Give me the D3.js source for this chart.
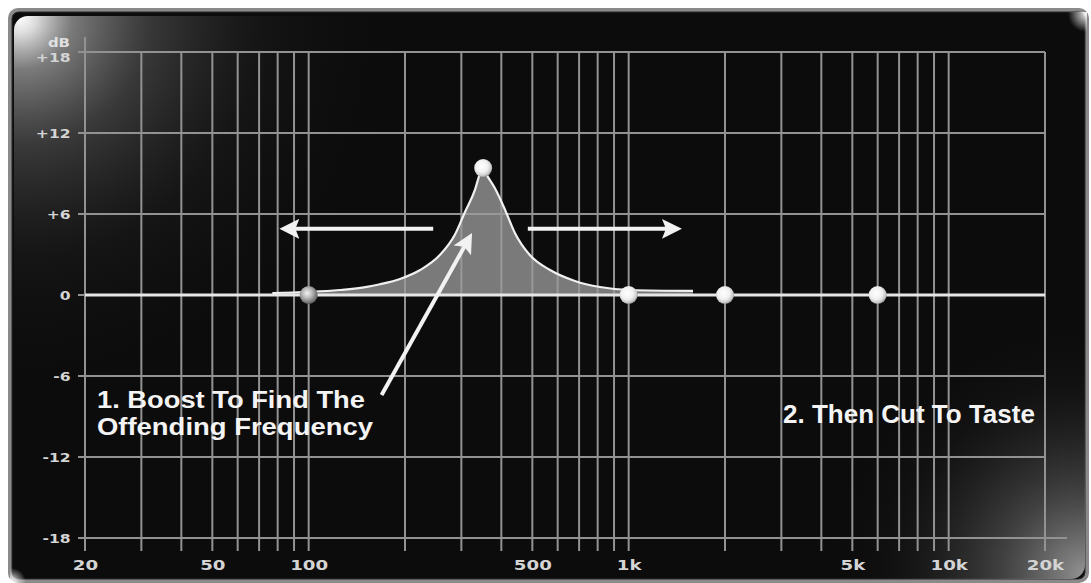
<!DOCTYPE html>
<html><head><meta charset="utf-8">
<script src="https://cdn.jsdelivr.net/npm/d3@7"></script>
<style>html,body{margin:0;padding:0;background:#fff;overflow:hidden;} svg{display:block;}</style>
</head><body>
<svg id="chart" width="1091" height="583"></svg>
<script>
// ---------- data ----------
const gridFreqs = [20,30,40,50,60,70,80,90,100,200,300,400,500,600,700,800,900,1000,2000,3000,4000,5000,6000,7000,8000,9000,10000,20000];
const freqTickValues = [20,50,100,500,1000,5000,10000,20000];
const freqTickLabels = ["20","50","100","500","1k","5k","10k","20k"];
const dbTickValues = [18,12,6,0,-6,-12,-18];
const dbTickLabels = ["+18","+12","+6","0","-6","-12","-18"];
const curveFreqs = [77,125,152,167,193,223,257,286,308,331,342,351,360,382,411,441,491,568,679,813,1010,1589];
const curveGains = [0.15,0.37,0.6,0.8,1.19,1.85,2.96,4.44,6.15,7.8,8.9,9.4,8.9,7.9,6.3,4.6,2.96,1.85,1.04,0.59,0.37,0.3];
const flatFreqs = [20,20000];
const flatGains = [0,0];
const nodeFreqs = [100,351,1000,2000,6000];
const nodeGains = [0,9.4,0,0,0];
const arrowFromFreqs = [245,484,169];
const arrowFromGains = [4.9,4.9,-7.4];
const arrowToFreqs = [81,1467,324];
const arrowToGains = [4.9,4.9,4.6];
const noteLeftLines = ["1. Boost To Find The","Offending Frequency"];
const noteRight = "2. Then Cut To Taste";
const unitLabel = "dB";

// ---------- layout ----------
const svg = d3.select("#chart");
const x = d3.scaleLog().domain([20,20000]).range([85,1045]);
const y = d3.scaleLinear().domain([-18,18]).range([538,52]);
const defs = svg.append("defs");

function radial(id, cx, cy, r, stops){
  const g = defs.append("radialGradient").attr("id",id).attr("gradientUnits","userSpaceOnUse")
    .attr("cx",cx).attr("cy",cy).attr("r",r);
  stops.forEach(s=>g.append("stop").attr("offset",s[0]).attr("stop-color",s[1]).attr("stop-opacity",s[2]));
}
radial("tlGlow", 20, 18, 400, [[0,"#fff",1],[0.04,"#eee",0.92],[0.13,"#aaa",0.7],[0.32,"#777",0.42],[0.6,"#444",0.16],[1,"#000",0]]);
radial("brGlow", 1084, 574, 270, [[0,"#aaa",0.85],[0.3,"#777",0.5],[0.7,"#333",0.15],[1,"#000",0]]);
radial("trGlow", 1086, 14, 18, [[0,"#fff",0.9],[1,"#fff",0]]);
radial("blGlow", 12, 582, 14, [[0,"#fff",0.9],[1,"#fff",0]]);
const nw = defs.append("radialGradient").attr("id","nodeWhite").attr("cx","42%").attr("cy","40%").attr("r","62%");
[[0,"#ffffff"],[0.55,"#f0f0f0"],[0.85,"#c8c8c8"],[1,"#8a8a8a"]].forEach(s=>nw.append("stop").attr("offset",s[0]).attr("stop-color",s[1]));
const ng = defs.append("radialGradient").attr("id","nodeGray").attr("cx","42%").attr("cy","40%").attr("r","62%");
[[0,"#f2f2f2"],[0.45,"#b8b8b8"],[1,"#5a5a5a"]].forEach(s=>ng.append("stop").attr("offset",s[0]).attr("stop-color",s[1]));
defs.append("marker").attr("id","head").attr("markerUnits","userSpaceOnUse")
  .attr("viewBox","0 -11 22 22").attr("markerWidth",22).attr("markerHeight",22)
  .attr("refX",12).attr("refY",0).attr("orient","auto")
  .append("path").attr("d","M0,-10L20,0L0,10L4,0Z").attr("fill","#f2f2f2");

// ---------- frame ----------
svg.append("rect").attr("x",10).attr("y",10).attr("width",1077).attr("height",571).attr("rx",8)
  .attr("fill","#0c0c0c").attr("stroke","#8a8a8a").attr("stroke-width",4);
svg.append("rect").attr("x",12).attr("y",12).attr("width",1073).attr("height",567).attr("rx",7)
  .attr("fill","none").attr("stroke","#2a2a2a").attr("stroke-width",1);
svg.append("rect").attr("x",14).attr("y",16).attr("width",1071).attr("height",563).attr("rx",14).attr("fill","url(#tlGlow)");
svg.append("rect").attr("x",14).attr("y",16).attr("width",1071).attr("height",563).attr("rx",14).attr("fill","url(#brGlow)");
svg.append("rect").attr("x",1068).attr("y",12).attr("width",19).attr("height",20).attr("fill","url(#trGlow)");
svg.append("rect").attr("x",10).attr("y",568).attr("width",16).attr("height",15).attr("fill","url(#blGlow)");

// ---------- grid ----------
const gridColor = "#929292";
const grid = svg.append("g");
grid.selectAll("line.v").data(gridFreqs).join("line").attr("class","v")
  .attr("x1",d=>x(d)).attr("x2",d=>x(d))
  .attr("y1",d=>d===20 ? y(18)-15 : y(18)).attr("y2",y(-18)+13)
  .attr("stroke",gridColor).attr("stroke-width",2);
grid.selectAll("line.h").data(dbTickValues).join("line").attr("class","h")
  .attr("x1",x(20)-7).attr("x2",d=>d===-18 ? x(20000)+22 : x(20000))
  .attr("y1",d=>y(d)).attr("y2",d=>y(d))
  .attr("stroke",gridColor).attr("stroke-width",2);

// ---------- response ----------
const curve = curveFreqs.map((f,i)=>({f, g:curveGains[i]}));
svg.append("path").datum(curve)
  .attr("d", d3.area().x(d=>x(d.f)).y0(y(0)+1).y1(d=>y(d.g)).curve(d3.curveMonotoneX))
  .attr("fill","#9a9a9a").attr("fill-opacity",0.78);
svg.append("path").datum(flatFreqs.map((f,i)=>({f,g:flatGains[i]})))
  .attr("d", d3.line().x(d=>x(d.f)).y(d=>y(d.g)))
  .attr("stroke","#e6e6e6").attr("stroke-width",3).attr("fill","none");
svg.append("path").datum(curve)
  .attr("d", d3.line().x(d=>x(d.f)).y(d=>y(d.g)).curve(d3.curveMonotoneX))
  .attr("stroke","#f0f0f0").attr("stroke-width",2.2).attr("fill","none");

svg.selectAll("circle.node").data(nodeFreqs.map((f,i)=>({f,g:nodeGains[i],i}))).join("circle")
  .attr("class","node").attr("cx",d=>x(d.f)).attr("cy",d=>y(d.g)).attr("r",9)
  .attr("fill",d=>d.i===0 ? "url(#nodeGray)" : "url(#nodeWhite)");

// ---------- arrows ----------
svg.selectAll("line.arrow").data(arrowFromFreqs.map((f,i)=>{
    const x1 = x(f), y1 = y(arrowFromGains[i]), x2 = x(arrowToFreqs[i]), y2 = y(arrowToGains[i]);
    const L = Math.hypot(x2-x1,y2-y1);
    return {x1,y1,x2:x2-(x2-x1)/L*8,y2:y2-(y2-y1)/L*8};
  })).join("line").attr("class","arrow")
  .attr("x1",d=>d.x1).attr("y1",d=>d.y1).attr("x2",d=>d.x2).attr("y2",d=>d.y2)
  .attr("stroke","#f2f2f2").attr("stroke-width",4).attr("marker-end","url(#head)");

// ---------- notes ----------
const noteFont = "'Liberation Sans', Arial, Helvetica, sans-serif";
const noteWidths = [268, 276];
svg.append("text").attr("font-family",noteFont).attr("font-weight","bold").attr("font-size",24)
  .attr("fill","#f4f4f4")
  .selectAll("tspan").data(noteLeftLines).join("tspan")
  .attr("x",x(21.8)).attr("y",(d,i)=>y(-8.35)+i*27)
  .attr("textLength",(d,i)=>noteWidths[i]).attr("lengthAdjust","spacingAndGlyphs").text(d=>d);
svg.append("text").attr("font-family",noteFont).attr("font-weight","bold").attr("font-size",26)
  .attr("fill","#f4f4f4").attr("text-anchor","end")
  .attr("x",x(18600)).attr("y",y(-9.45)).text(noteRight);

// ---------- axes ----------
const labFont = "'DejaVu Sans', sans-serif";
const xAxis = svg.append("g").attr("transform",`translate(0,${y(-18)})`)
  .call(d3.axisBottom(x).tickValues(freqTickValues).tickFormat((d,i)=>freqTickLabels[i]).tickSize(0).tickPadding(0));
xAxis.select(".domain").remove();
xAxis.selectAll("text").attr("font-family",labFont).attr("font-weight","bold").attr("font-size",14).attr("fill","#d4d4d4")
  .attr("y",27).attr("dy","0.35em").attr("transform","scale(1.3,1)");

const yAxis = svg.append("g").attr("transform",`translate(${x(20)},0)`)
  .call(d3.axisLeft(y).tickValues(dbTickValues).tickFormat((d,i)=>dbTickLabels[i]).tickSize(0).tickPadding(0));
yAxis.select(".domain").remove();
yAxis.selectAll("text").attr("font-family",labFont).attr("font-weight","bold").attr("font-size",13).attr("fill","#d4d4d4")
  .attr("x",-12).attr("dy",d=>d===18 ? "0.75em" : "0.35em").attr("transform","scale(1.2,1)");
svg.append("text").attr("font-family",labFont).attr("font-weight","bold").attr("font-size",13).attr("fill","#e0e0e0")
  .attr("text-anchor","end").attr("transform",`translate(${x(20)-15},${y(18)-5}) scale(1.15,1)`)
  .text(unitLabel);
</script>
</body></html>
